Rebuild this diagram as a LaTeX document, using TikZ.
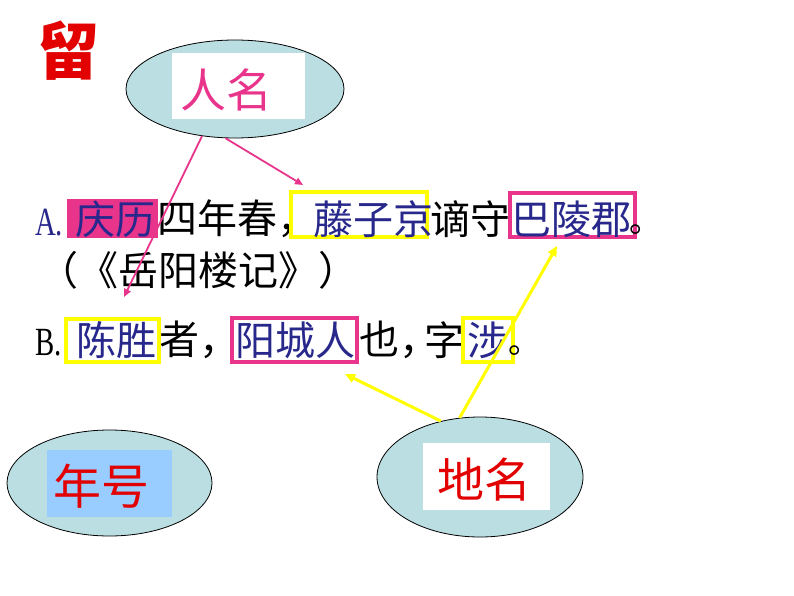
\documentclass[tikz,border=0pt]{standalone}
\usepackage{fontspec}
\setmainfont{Liberation Serif}
\newfontfamily\cjk{Noto Sans CJK SC}
\usetikzlibrary{shapes.geometric,arrows.meta}
\definecolor{navy}{RGB}{40,40,140}
\definecolor{hotpink}{RGB}{233,52,140}
\definecolor{yel}{RGB}{255,255,0}
\definecolor{ellfill}{RGB}{186,222,226}
\definecolor{lblue}{RGB}{153,204,255}
\definecolor{redc}{RGB}{226,0,0}
\begin{document}
\begin{tikzpicture}[x=1pt,y=-1pt,
  ell/.style={ellipse,draw=black,line width=0.8pt,fill=ellfill,inner sep=0pt},
  rectlab/.style={rectangle,inner sep=0pt},
  big/.style={inner sep=0pt,font=\cjk\fontsize{#1}{#1}\selectfont},
  txt/.style={anchor=west,inner sep=0pt,font=\cjk\fontsize{40}{40}\selectfont},
  dot/.style={inner sep=0pt,font=\cjk\fontsize{32}{32}\selectfont},
  latin/.style={anchor=base west,inner sep=0pt,font=\fontsize{40}{40}\selectfont},
  ybox/.style={draw=yel,line width=4pt,fill=white,inner sep=0pt},
  pbox/.style={draw=hotpink,line width=4pt,fill=white,inner sep=0pt},
  parrow/.style={draw=hotpink,line width=1.8pt,-{Triangle[length=8pt,width=7pt]}},
  yarrow/.style={draw=yel,line width=3pt,-{Triangle[length=10pt,width=9pt]}}]
\useasboundingbox (0,0) rectangle (794,596);
\fill[white] (0,0) rectangle (794,596);

% title character
\node[inner sep=0pt,text=redc,font=\cjk\bfseries\fontsize{62}{62}\selectfont] (liu) at (68,51) {留};

% ellipses
\node[ell,minimum width=218pt,minimum height=98pt] (rm) at (235,89) {};
\node[rectlab,fill=white,minimum width=133pt,minimum height=66pt] (rmr) at (238.5,86) {};
\node[big=46,text=hotpink] (rmt) at (226,89.5) {人名};

\node[ell,minimum width=205pt,minimum height=106pt] (nh) at (109.5,483) {};
\node[rectlab,fill=lblue,minimum width=125pt,minimum height=67pt] (nhr) at (109.5,483.5) {};
\node[big=48,text=redc] (nht) at (101.5,486.5) {年号};

\node[ell,minimum width=206pt,minimum height=120pt] (dm) at (480,477) {};
\node[rectlab,fill=white,minimum width=127pt,minimum height=67pt] (dmr) at (486.5,476.5) {};
\node[big=47,text=redc] (dmt) at (484,480) {地名};

% line A
\node[latin,text=navy] (la) at (35,235) {\scalebox{0.72}[1]{A.}};
\node[rectlab,fill=hotpink,minimum width=91pt,minimum height=39pt] (hl) at (112.5,218.5) {};
\node[txt,text=navy] (qinli) at (75,219) {庆历};
\node[txt] (a2) at (157,219) {四年春，};
\node[ybox,minimum width=136pt,minimum height=45pt] (yA) at (359,214.5) {};
\node[txt,text=navy] (tzj) at (313,219) {藤子京};
\node[txt] (a3) at (430,219) {谪守};
\node[pbox,minimum width=125pt,minimum height=44pt] (pA) at (572.5,215) {};
\node[txt,text=navy] (blj) at (511,219) {巴陵郡};
\node[dot] (a4) at (645,230) {。};

% line 2
\node[txt] (src) at (38,270) {（《岳阳楼记》）};

% line B
\node[latin] (lb) at (35,355) {\scalebox{0.72}[1]{B.}};
\node[txt] (b2) at (159,340) {者，};
\node[txt] (b3) at (359,340) {也，};
\node[txt] (b3z) at (424,340) {字};
\node[ybox,minimum width=93pt,minimum height=43pt] (yB) at (112.5,340.5) {};
\node[txt,text=navy] (cs) at (76,340) {陈胜};
\node[pbox,minimum width=125pt,minimum height=44pt] (pB) at (294.5,340) {};
\node[txt,text=navy] (ycr) at (235,340) {阳城人};
\node[ybox,minimum width=50pt,minimum height=44pt] (yS) at (488,340) {};
\node[txt,text=navy] (she) at (467,340) {涉};
\node[dot] (b4) at (524,351) {。};

% arrow ends
\coordinate (c1) at (124,297);
\coordinate (c2) at (303,185);
\coordinate (c3) at (345,374);
\coordinate (c4) at (557,246);

\draw[parrow] (rm.-125) -- (c1);
\draw[parrow] (rm.-101) -- (c2);
\draw[yarrow] (dm.125) -- (c3);
\draw[yarrow] (dm.109) -- (c4);
\end{tikzpicture}
\end{document}
